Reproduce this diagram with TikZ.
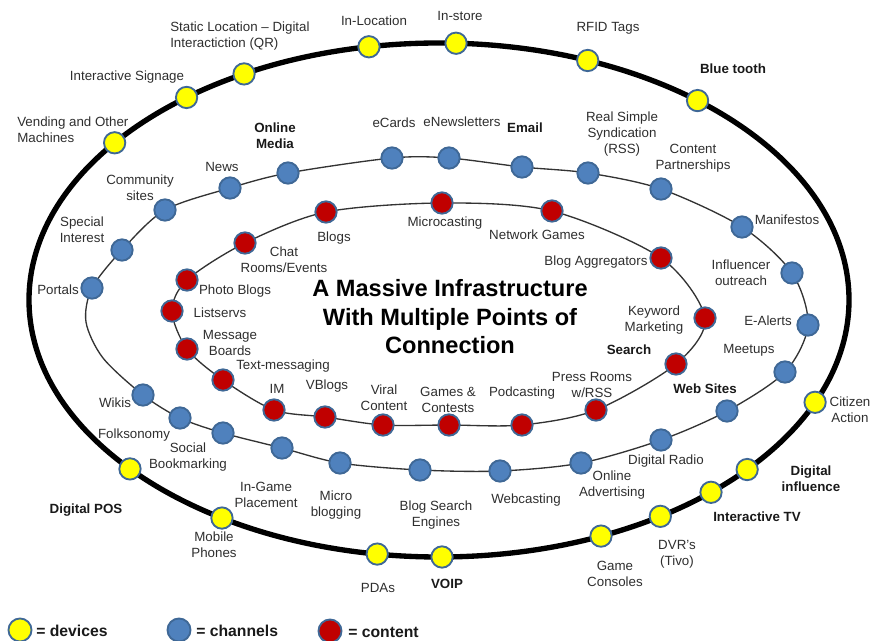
\documentclass[tikz,border=0pt]{standalone}
\usepackage{fontspec}
\setmainfont{Liberation Sans}
\usetikzlibrary{calc}
\definecolor{devy}{HTML}{FFFF00}
\definecolor{chb}{HTML}{4F81BD}
\definecolor{cnr}{HTML}{C00000}
\definecolor{rimc}{HTML}{3F6896}
\definecolor{txt}{HTML}{2E2E2E}
\pgfdeclarelayer{bg}
\pgfsetlayers{bg,main}
% place a device dot on the outer ellipse, projected radially
\newcommand\devat[3]{%
  \pgfmathsetmacro\aA{(#2-439)/410}%
  \pgfmathsetmacro\bB{(#3-300)/257}%
  \pgfmathsetmacro\sS{sqrt((\aA)*(\aA)+(\bB)*(\bB))}%
  \node[devdot] (#1) at ({439+(#2-439)/\sS},{300+(#3-300)/\sS}) {};}
\begin{document}
\begin{tikzpicture}[x=0.75pt,y=-0.75pt,
  dotbase/.style={circle,draw=rimc,line width=1.4pt,minimum size=16pt,inner sep=0pt},
  devdot/.style={dotbase,fill=devy},
  chdot/.style={dotbase,fill=chb},
  ctdot/.style={dotbase,fill=cnr},
  lbl/.style={font=\fontsize{10}{11.8}\selectfont,text=txt,align=center,inner sep=0pt},
  lbll/.style={lbl,align=left},
  blbl/.style={lbl,font=\fontsize{10}{11.8}\selectfont\bfseries,text=black!90},
  titletxt/.style={font=\fontsize{17.7}{21.4}\selectfont\bfseries,align=center,inner sep=0pt},
  ring/.style={line width=1pt,draw=black!80},
  outerring/.style={line width=4pt,draw=black},
  legendtxt/.style={font=\fontsize{11.8}{14}\selectfont\bfseries,text=black!90,anchor=west,inner sep=0pt}
]
\useasboundingbox (0,0) rectangle (871,641);

% ---------- device dots (outer ring) ----------
\devat{d1}{113}{142}
\devat{d2}{186}{97}
\devat{d3}{245}{75}
\devat{d4}{369}{47}
\devat{d5}{456}{44}
\devat{d6}{588}{60}
\devat{d7}{697}{101}
\devat{d8}{814}{402}
\devat{d9}{748}{470}
\devat{d10}{712}{493}
\devat{d11}{661}{517}
\devat{d12}{603}{539}
\devat{d13}{442}{555}
\devat{d14}{377}{555}
\devat{d15}{223}{517}
\devat{d16}{128}{470}

% ---------- channel dots (middle ring) ----------
\node[chdot] (ch1) at (92,288) {};
\node[chdot] (ch2) at (122,250) {};
\node[chdot] (ch3) at (165,210) {};
\node[chdot] (ch4) at (230,188) {};
\node[chdot] (ch5) at (288,173) {};
\node[chdot] (ch6) at (392,158) {};
\node[chdot] (ch7) at (449,158) {};
\node[chdot] (ch8) at (522,167) {};
\node[chdot] (ch9) at (588,173) {};
\node[chdot] (ch10) at (661,189) {};
\node[chdot] (ch11) at (742,227) {};
\node[chdot] (ch12) at (792,273) {};
\node[chdot] (ch13) at (808,325) {};
\node[chdot] (ch14) at (785,372) {};
\node[chdot] (ch15) at (727,411) {};
\node[chdot] (ch16) at (661,440) {};
\node[chdot] (ch17) at (581,463) {};
\node[chdot] (ch18) at (500,471) {};
\node[chdot] (ch19) at (420,470) {};
\node[chdot] (ch20) at (340,463) {};
\node[chdot] (ch21) at (282,448) {};
\node[chdot] (ch22) at (223,433) {};
\node[chdot] (ch23) at (180,418) {};
\node[chdot] (ch24) at (143,395) {};
\coordinate (m2) at (103,358);
\coordinate (m1) at (86,322);

% ---------- content dots (inner ring) ----------
\node[ctdot] (ct1) at (326,212) {};
\node[ctdot] (ct2) at (442,203) {};
\node[ctdot] (ct3) at (552,211) {};
\node[ctdot] (ct4) at (661,258) {};
\node[ctdot] (ct5) at (705,318) {};
\node[ctdot] (ct6) at (676,364) {};
\node[ctdot] (ct7) at (596,410) {};
\node[ctdot] (ct8) at (522,425) {};
\node[ctdot] (ct9) at (449,425) {};
\node[ctdot] (ct10) at (383,425) {};
\node[ctdot] (ct11) at (325,417) {};
\node[ctdot] (ct12) at (274,410) {};
\node[ctdot] (ct13) at (223,380) {};
\node[ctdot] (ct14) at (187,349) {};
\node[ctdot] (ct15) at (172,311) {};
\node[ctdot] (ct16) at (187,280) {};
\node[ctdot] (ct17) at (245,243) {};

% ---------- rings ----------
\begin{pgfonlayer}{bg}
\draw[outerring] (439,300) ellipse [x radius=410, y radius=257];
\draw[ring] plot[smooth cycle] coordinates {(ch1.center) (ch2.center) (ch3.center) (ch4.center) (ch5.center) (ch6.center) (ch7.center) (ch8.center) (ch9.center) (ch10.center) (ch11.center) (ch12.center) (ch13.center) (ch14.center) (ch15.center) (ch16.center) (ch17.center) (ch18.center) (ch19.center) (ch20.center) (ch21.center) (ch22.center) (ch23.center) (ch24.center) (m2) (m1)};
\draw[ring] plot[smooth cycle] coordinates {(ct1.center) (ct2.center) (ct3.center) (ct4.center) (ct5.center) (ct6.center) (ct7.center) (ct8.center) (ct9.center) (ct10.center) (ct11.center) (ct12.center) (ct13.center) (ct14.center) (ct15.center) (ct16.center) (ct17.center)};
\end{pgfonlayer}

% ---------- title ----------
\node[titletxt] (title) at (450,317) {A Massive Infrastructure\\With Multiple Points of\\Connection};

% ---------- outer labels ----------
\node[lbll,anchor=west] (l1) at (170,36) {Static Location – Digital\\Interactiction (QR)};
\node[lbl] (l2) at (374,21) {In-Location};
\node[lbl] (l3) at (460,16) {In-store};
\node[lbl] (l4) at (608,28) {RFID Tags};
\node[blbl] (l5) at (733,69) {Blue tooth};
\node[lbl] (l6) at (127,77) {Interactive Signage};
\node[lbll,anchor=west] (l7) at (17,130) {Vending and Other\\Machines};
\node[lbl] (l8) at (850,410) {Citizen\\Action};
\node[blbl] (l9) at (811,479) {Digital\\influence};
\node[blbl] (l10) at (757,517) {Interactive TV};
\node[lbl] (l11) at (677,554) {DVR’s\\(Tivo)};
\node[lbl] (l12) at (615,574) {Game\\Consoles};
\node[blbl] (l13) at (447,584) {VOIP};
\node[lbl] (l14) at (378,588) {PDAs};
\node[lbl] (l15) at (214,545) {Mobile\\Phones};
\node[blbl] (l16) at (86,510) {Digital POS};

% ---------- channel labels ----------
\node[blbl] (k1) at (275,136) {Online\\Media};
\node[lbl] (k2) at (394,123) {eCards};
\node[lbl] (k3) at (462,122) {eNewsletters};
\node[blbl] (k4) at (525,128) {Email};
\node[lbl] (k5) at (622,134) {Real Simple\\Syndication\\(RSS)};
\node[lbl] (k6) at (693,158) {Content\\Partnerships};
\node[lbl] (k7) at (222,167) {News};
\node[lbl] (k8) at (140,188) {Community\\sites};
\node[lbl] (k9) at (82,230) {Special\\Interest};
\node[lbl] (k10) at (58,290) {Portals};
\node[lbl] (k11) at (787,220) {Manifestos};
\node[lbl] (k12) at (741,273) {Influencer\\outreach};
\node[lbl] (k13) at (768,321) {E-Alerts};
\node[lbl] (k14) at (749,350) {Meetups};
\node[blbl] (k15) at (705,389) {Web Sites};
\node[lbl] (k16) at (666,461) {Digital Radio};
\node[lbl] (k17) at (612,485) {Online\\Advertising};
\node[lbl] (k18) at (526,500) {Webcasting};
\node[lbl] (k19) at (436,515) {Blog Search\\Engines};
\node[lbl] (k20) at (336,505) {Micro\\blogging};
\node[lbl] (k21) at (266,495) {In-Game\\Placement};
\node[lbl] (k22) at (188,457) {Social\\Bookmarking};
\node[lbl] (k23) at (134,435) {Folksonomy};
\node[lbl] (k24) at (115,403) {Wikis};

% ---------- content labels ----------
\node[lbl] (c1) at (334,238) {Blogs};
\node[lbl] (c2) at (445,223) {Microcasting};
\node[lbl] (c3) at (537,235) {Network Games};
\node[lbl] (c4) at (596,262) {Blog Aggregators};
\node[lbl] (c5) at (654,320) {Keyword\\Marketing};
\node[blbl] (c6) at (629,350) {Search};
\node[lbl] (c7) at (592,385) {Press Rooms\\w/RSS};
\node[lbl] (c8) at (522,393) {Podcasting};
\node[lbl] (c9) at (448,400) {Games \&\\Contests};
\node[lbl] (c10) at (384,398) {Viral\\Content};
\node[lbl] (c11) at (327,386) {VBlogs};
\node[lbl] (c12) at (277,389) {IM};
\node[lbl] (c13) at (283,366) {Text-messaging};
\node[lbl] (c14) at (230,343) {Message\\Boards};
\node[lbl] (c15) at (220,313) {Listservs};
\node[lbl] (c16) at (235,291) {Photo Blogs};
\node[lbl] (c17) at (284,260) {Chat\\Rooms/Events};

% ---------- legend ----------
\node[devdot,minimum size=17.3pt] (g1) at (20,630) {};
\node[legendtxt] (g1t) at (36,631) {= devices};
\node[chdot,minimum size=17.3pt] (g2) at (179,630) {};
\node[legendtxt] (g2t) at (196,631) {= channels};
\node[ctdot,minimum size=17.3pt] (g3) at (330,631) {};
\node[legendtxt] (g3t) at (348,632) {= content};
\end{tikzpicture}
\end{document}
